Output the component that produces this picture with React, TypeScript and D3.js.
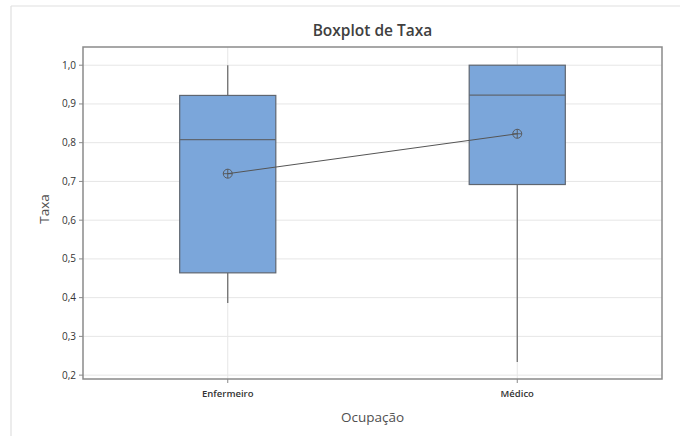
import React from "react";
import * as d3 from "d3";

const categories = ["Enfermeiro", "Médico"];
const q1 = [0.464, 0.692];
const median = [0.808, 0.923];
const q3 = [0.922, 1.0];
const whiskerLow = [0.386, 0.234];
const whiskerHigh = [1.0, 1.0];
const means = [0.72, 0.823];
const yTicks = [0.2, 0.3, 0.4, 0.5, 0.6, 0.7, 0.8, 0.9, 1.0];

const W = 680;
const H = 436;
const L = 83, R = 662, T = 47, B = 379;
const font = "'Open Sans', 'Noto Sans', sans-serif";

export default function App() {
  const x = d3.scalePoint<string>().domain(categories).range([L, R]).padding(0.5);
  const y = d3.scaleLinear().domain([0.19, 1.047]).range([B, T]);
  const bw = x.step() * 0.332;
  const fmt = (v: number) => v.toFixed(1).replace(".", ",");
  const meanLine = d3.line<number>().x((_, i) => x(categories[i])!).y((d) => y(d));

  return (
    <svg width={W} height={H} style={{ position: "absolute", left: 0, top: 0 }}>
      <rect x={0} y={0} width={W} height={H} fill="#fff" />
      <line x1={11} y1={6} x2={W} y2={6} stroke="#e0e0e0" strokeWidth={1.2} />
      <line x1={11} y1={6} x2={11} y2={H} stroke="#e0e0e0" strokeWidth={1.2} />
      <text x={(L + R) / 2} y={36} textAnchor="middle" fontFamily={font} fontWeight={600} fontSize={15.5} fill="#404040">
        Boxplot de Taxa
      </text>
      {yTicks.map((t) => (
        <line key={"g" + t} x1={L} x2={R} y1={y(t)} y2={y(t)} stroke="#e6e6e6" strokeWidth={1} />
      ))}
      {categories.map((c) => (
        <line key={"v" + c} x1={x(c)} x2={x(c)} y1={T} y2={B} stroke="#e6e6e6" strokeWidth={1} />
      ))}
      {categories.map((c, i) => {
        const cx = x(c)!;
        return (
          <g key={c}>
            <line x1={cx} x2={cx} y1={y(whiskerHigh[i])} y2={y(q3[i])} stroke="#666" strokeWidth={1.2} />
            <line x1={cx} x2={cx} y1={y(q1[i])} y2={y(whiskerLow[i])} stroke="#666" strokeWidth={1.2} />
            <rect x={cx - bw / 2} y={y(q3[i])} width={bw} height={y(q1[i]) - y(q3[i])} fill="#7BA6DA" stroke="#5f6670" strokeWidth={1.2} />
            <line x1={cx - bw / 2} x2={cx + bw / 2} y1={y(median[i])} y2={y(median[i])} stroke="#5f6670" strokeWidth={1.2} />
          </g>
        );
      })}
      <path d={meanLine(means) || ""} fill="none" stroke="#555" strokeWidth={1} />
      {categories.map((c, i) => {
        const cx = x(c)!;
        const cy = y(means[i]);
        return (
          <g key={"m" + c} stroke="#555" strokeWidth={0.9} fill="none">
            <circle cx={cx} cy={cy} r={4.5} />
            <line x1={cx - 4.5} x2={cx + 4.5} y1={cy} y2={cy} />
            <line x1={cx} x2={cx} y1={cy - 4.5} y2={cy + 4.5} />
          </g>
        );
      })}
      <rect x={L} y={T} width={R - L} height={B - T} fill="none" stroke="#8a8a8a" strokeWidth={1.5} />
      {yTicks.map((t) => (
        <g key={"t" + t}>
          <line x1={L - 4} x2={L} y1={y(t)} y2={y(t)} stroke="#8a8a8a" strokeWidth={1} />
          <text x={L - 7} y={y(t)} dy="0.35em" textAnchor="end" fontFamily={font} fontSize={10} fill="#333">
            {fmt(t)}
          </text>
        </g>
      ))}
      {categories.map((c) => (
        <g key={"xt" + c}>
          <line x1={x(c)} x2={x(c)} y1={B} y2={B + 4} stroke="#8a8a8a" strokeWidth={1} />
          <text x={x(c)} y={397} textAnchor="middle" fontFamily={font} fontWeight={600} fontSize={9.5} fill="#333">
            {c}
          </text>
        </g>
      ))}
      <text x={(L + R) / 2} y={422} textAnchor="middle" fontFamily={font} fontWeight={500} fontSize={13.5} fill="#505050">
        Ocupação
      </text>
      <text transform={`translate(49, ${(T + B) / 2 - 4}) rotate(-90)`} textAnchor="middle" fontFamily={font} fontWeight={500} fontSize={13.5} fill="#505050">
        Taxa
      </text>
    </svg>
  );
}
